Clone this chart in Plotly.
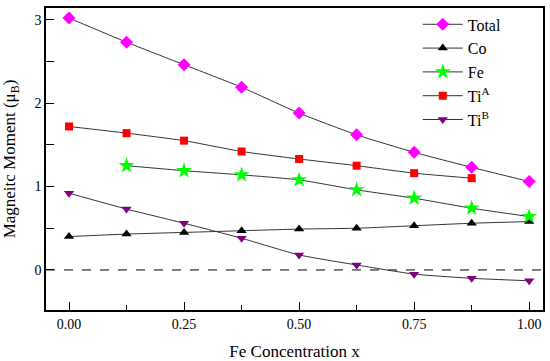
import plotly.graph_objects as go

x_conc = [0.0, 0.125, 0.25, 0.375, 0.5, 0.625, 0.75, 0.875, 1.0]
total = [3.02, 2.73, 2.46, 2.19, 1.88, 1.62, 1.41, 1.23, 1.06]
co = [0.40, 0.43, 0.45, 0.47, 0.49, 0.50, 0.53, 0.56, 0.58]
fe_x = [0.125, 0.25, 0.375, 0.5, 0.625, 0.75, 0.875, 1.0]
fe = [1.25, 1.19, 1.14, 1.08, 0.96, 0.86, 0.74, 0.64]
tia_x = [0.0, 0.125, 0.25, 0.375, 0.5, 0.625, 0.75, 0.875]
tia = [1.72, 1.64, 1.55, 1.42, 1.33, 1.25, 1.16, 1.10]
tib = [0.92, 0.73, 0.56, 0.38, 0.18, 0.06, -0.05, -0.10, -0.13]

FONT = "Times New Roman, Liberation Serif, DejaVu Serif, serif"
LINE = dict(color="#333333", width=1, shape="spline", smoothing=0.5)

fig = go.Figure()
series = [
    ("Total", x_conc, total, "diamond", "#FF00FF", 10),
    ("Co", x_conc, co, "triangle-up", "#000000", 9),
    ("Fe", fe_x, fe, "star", "#00FF00", 12),
    ("Ti<sup>A</sup>", tia_x, tia, "square", "#FF0000", 8),
    ("Ti<sup>B</sup>", x_conc, tib, "triangle-down", "#800080", 9),
]
for name, xs, ys, sym, col, sz in series:
    fig.add_trace(go.Scatter(
        x=xs, y=ys, name=name, mode="lines+markers",
        line=LINE,
        marker=dict(symbol=sym, color=col, size=sz, line=dict(width=0)),
    ))

fig.add_shape(type="line", xref="paper", yref="y", x0=0, x1=1, y0=0, y1=0,
              line=dict(color="#000000", width=1, dash="dash"), layer="below")

fig.update_layout(
    width=550, height=361,
    margin=dict(l=46, r=7, t=8, b=51, autoexpand=False),
    paper_bgcolor="white", plot_bgcolor="white",
    font=dict(family=FONT, color="#000000", size=14),
    showlegend=True,
    legend=dict(x=0.748, y=1.002, xanchor="left", yanchor="top",
                bgcolor="rgba(0,0,0,0)", font=dict(size=16, family=FONT),
                tracegroupgap=0, itemwidth=40),
    xaxis=dict(
        range=[-0.05, 1.03], tickvals=[0, 0.25, 0.5, 0.75, 1.0],
        ticktext=["0.00", "0.25", "0.50", "0.75", "1.00"],
        ticks="inside", ticklen=8, tickwidth=1, tickcolor="#000",
        minor=dict(tickvals=[0.125, 0.375, 0.625, 0.875], ticks="inside",
                   ticklen=5, tickwidth=1, tickcolor="#000", showgrid=False),
        showline=True, linecolor="#000", linewidth=1.5, mirror=True,
        showgrid=False, zeroline=False, automargin=False,
        tickfont=dict(size=14, family=FONT),
        title=dict(text="Fe Concentration x", font=dict(size=17, family=FONT)),
    ),
    yaxis=dict(
        range=[-0.48, 3.14], tickvals=[0, 1, 2, 3],
        ticks="inside", ticklen=8, tickwidth=1, tickcolor="#000",
        minor=dict(tickvals=[0.5, 1.5, 2.5], ticks="inside",
                   ticklen=8, tickwidth=1, tickcolor="#000", showgrid=False),
        showline=True, linecolor="#000", linewidth=1.5, mirror=True,
        showgrid=False, zeroline=False, automargin=False,
        tickfont=dict(size=14, family=FONT),
        title=dict(text="Magneitc Moment (μ<sub>B</sub>)", font=dict(size=17, family=FONT)),
    ),
)

fig.write_html("out.html", config={"displayModeBar": False},
               post_script="document.body.style.margin='0';document.body.style.padding='0';")
